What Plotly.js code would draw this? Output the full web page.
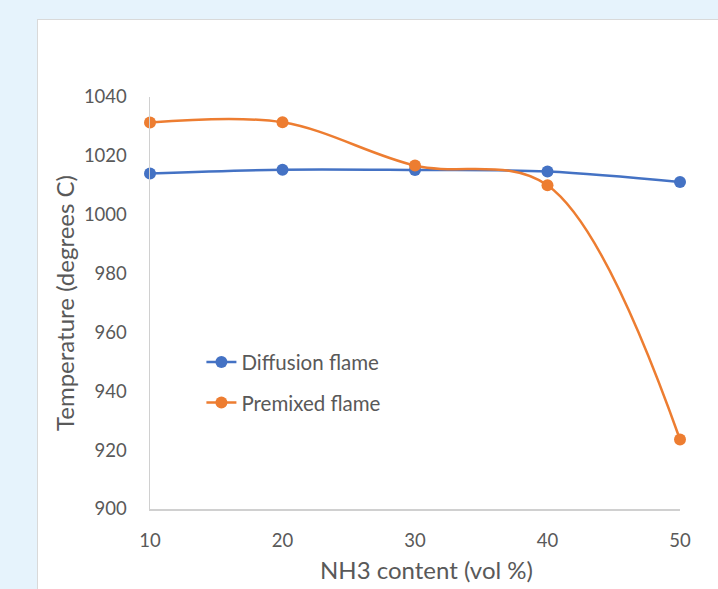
<!DOCTYPE html>
<html>
<head>
<meta charset="utf-8">
<script src="https://cdn.plot.ly/plotly-3.0.1.min.js"></script>
<style>
  html, body { margin: 0; padding: 0; background: #e6f3fc; }
  #card { position: absolute; left: 37px; top: 19px; width: 681px; height: 570px; background: #ffffff;
          border-left: 1px solid #d9d9d9; border-top: 1px solid #d9d9d9; box-sizing: border-box; }
  #chart { position: absolute; left: 0; top: 0; width: 718px; height: 589px; }
</style>
</head>
<body>
<div id="card"></div>
<div id="chart"></div>
<script>
const nh3Content = [10, 20, 30, 40, 50];
const diffusionFlame = [1014.0, 1015.3, 1015.2, 1014.7, 1011.1];
const premixedFlame = [1031.3, 1031.4, 1016.7, 1010.0, 923.6];
const seriesNames = ["Diffusion flame", "Premixed flame"];
const yTicks = [900, 920, 940, 960, 980, 1000, 1020, 1040];
const xTicks = [10, 20, 30, 40, 50];
const xTitle = "NH3 content (vol %)";
const yTitle = "Temperature (degrees C)";

const FONT = "Lato, 'Open Sans', sans-serif";
const GRAY = "#595959";

const traces = [
  {
    x: nh3Content, y: diffusionFlame, name: seriesNames[0], type: "scatter", mode: "lines+markers",
    line: { color: "#4472c4", width: 2.5, shape: "spline", smoothing: 1 },
    marker: { color: "#4472c4", size: 12 }, legendgroup: "a", cliponaxis: false
  },
  {
    x: nh3Content, y: premixedFlame, name: seriesNames[1], type: "scatter", mode: "lines+markers",
    line: { color: "#ed7d31", width: 2.5, shape: "spline", smoothing: 1 },
    marker: { color: "#ed7d31", size: 12 }, legendgroup: "b", cliponaxis: false
  }
];

const layout = {
  width: 718, height: 589,
  paper_bgcolor: "rgba(0,0,0,0)", plot_bgcolor: "rgba(0,0,0,0)",
  margin: { l: 150, r: 38, t: 97, b: 80 },
  font: { family: FONT, color: GRAY, size: 16 },
  showlegend: true,
  legend: {
    x: 0.097, y: 0.405, xanchor: "left", yanchor: "top",
    bgcolor: "rgba(0,0,0,0)", font: { family: FONT, size: 20.5, color: GRAY },
    traceorder: "grouped", tracegroupgap: 11
  },
  xaxis: {
    range: [10, 50], tickvals: xTicks, ticktext: xTicks.map(String),
    showgrid: false, zeroline: false, showline: true, linecolor: "#d0d0d0", linewidth: 1.5,
    ticks: "", ticklabelstandoff: 14, tickfont: { family: FONT, size: 18.5, color: GRAY }
  },
  yaxis: {
    range: [900, 1040], tickvals: yTicks, ticktext: yTicks.map(String),
    showgrid: false, zeroline: false, showline: true, linecolor: "#d0d0d0", linewidth: 1.5,
    ticks: "", ticklabelstandoff: 18, tickfont: { family: FONT, size: 18.5, color: GRAY },
    title: { text: yTitle, font: { family: FONT, size: 24, color: GRAY }, standoff: 2 }
  },
  annotations: [
    {
      text: xTitle, xref: "paper", yref: "paper", x: 0.5226, y: -0.148,
      xanchor: "center", yanchor: "middle", showarrow: false,
      font: { family: FONT, size: 24, color: GRAY }
    }
  ]
};

Plotly.newPlot("chart", traces, layout, { displayModeBar: false, staticPlot: true });
</script>
</body>
</html>
